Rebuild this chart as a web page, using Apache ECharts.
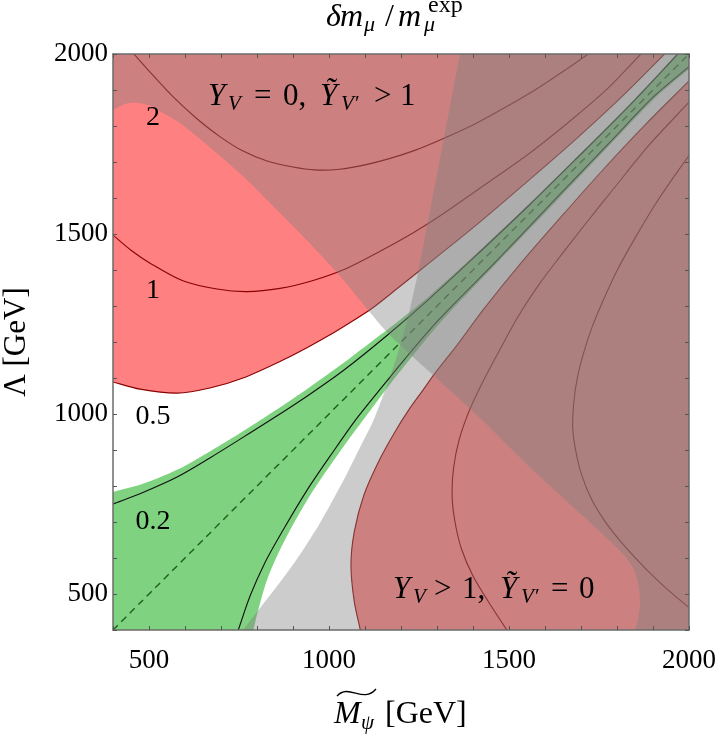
<!DOCTYPE html>
<html>
<head>
<meta charset="utf-8">
<script src="https://cdn.jsdelivr.net/npm/echarts@6/dist/echarts.min.js"></script>
<style>html,body{margin:0;padding:0;background:#fff}#c{width:720px;height:737px}</style>
</head>
<body>
<div id="c"></div>
<script>
// ---------- data (M_psi [GeV], Lambda [GeV]) ----------
const xTicks = [500, 1000, 1500, 2000];
const yTicks = [500, 1000, 1500, 2000];
const contourLevels = ['0.2', '0.5', '1', '2'];

const zeroLine = [[400,400],[2000,2000]];

const c02Upper = [[400,750],[483,782],[578,825],[669,878],[761,935],[856,995],[947,1055],[1039,1120],[1161,1218],[1281,1322],[1419,1450],[1558,1582],[1683,1705],[1836,1858],[1969,2000]];
const c02Lower = [[748,400],[781,495],[821,585],[875,682],[940,790],[1010,893],[1075,985],[1135,1060],[1210,1152],[1305,1262],[1460,1420],[1630,1598],[1790,1765],[1900,1880],[2000,1965]];

const c05Upper = [[400,1089],[475,1069],[578,1058],[669,1072],[761,1100],[872,1150],[940,1185],[1003,1220],[1060,1255],[1119,1293],[1200,1357],[1289,1428],[1419,1533],[1550,1645],[1683,1761],[1810,1878],[1932,2000]];
const c05Lower = [[1087,400],[1070,480],[1061,580],[1070,672],[1097,775],[1140,872],[1183,950],[1222,1012],[1260,1065],[1292,1110],[1360,1197],[1428,1289],[1533,1419],[1645,1548],[1758,1675],[1878,1803],[2000,1925]];

const c1Upper = [[400,1497],[450,1455],[503,1419],[594,1370],[689,1347],[772,1340],[864,1349],[956,1371],[1050,1405],[1142,1452],[1233,1503],[1308,1550],[1419,1627],[1558,1725],[1683,1825],[1775,1905],[1866,2000]];
const c1Lower = [[1494,400],[1445,475],[1400,550],[1368,625],[1350,700],[1342,770],[1346,850],[1362,930],[1390,1010],[1425,1085],[1470,1170],[1525,1270],[1585,1362],[1640,1435],[1710,1525],[1790,1625],[1890,1748],[2000,1866]];

const c2Upper = [[458,2000],[510,1942],[568,1880],[630,1823],[695,1772],[760,1731],[830,1702],[900,1686],[960,1678],[1030,1680],[1100,1692],[1170,1710],[1240,1733],[1310,1762],[1400,1803],[1490,1852],[1580,1905],[1660,1958],[1720,2000]];
const c2Lower = [[2000,462],[1940,513],[1880,570],[1822,632],[1770,697],[1730,762],[1702,830],[1685,900],[1677,962],[1680,1032],[1690,1102],[1708,1172],[1731,1242],[1760,1312],[1802,1402],[1852,1492],[1906,1582],[1960,1662],[2000,1718]];

const greenUpperEdge = [[400,783],[483,806],[578,845],[669,896],[761,952],[856,1013],[947,1075],[1039,1141],[1114,1198],[1170,1240],[1281,1330],[1419,1455],[1558,1586],[1683,1709],[1836,1862],[1966,2000]];
const greenLowerEdge = [[790,400],[802,450],[830,545],[875,645],[945,770],[1030,895],[1100,990],[1150,1057],[1215,1140],[1310,1255],[1465,1418],[1636,1596],[1795,1763],[1905,1877],[2000,1958]];

// boundary of the shaded region "Y_V = 0, Y~_V' > 1" (shaded above/right of it)
const boundA = [[400,1844],[433,1861],[467,1864],[503,1856],[544,1833],[586,1808],[678,1733],[772,1650],[864,1558],[956,1464],[1022,1393],[1106,1292],[1161,1228],[1225,1166],[1289,1108],[1419,989],[1550,860],[1669,750],[1753,673],[1789,639],[1828,598],[1853,553],[1864,483],[1858,428],[1850,400]];
// boundary of the shaded region "Y_V > 1, Y~_V' = 0" (shaded right of it)
const boundB = [[1364,2000],[1334,1844],[1305,1692],[1276,1540],[1249,1400],[1222,1280],[1205,1215],[1188,1160],[1170,1105],[1150,1050],[1119,972],[1085,905],[1040,815],[975,697],[925,618],[883,558],[835,495],[789,436],[761,400]];

// ---------- helpers ----------
const AX_MIN = 400, AX_MAX = 2000, FAR_LO = AX_MIN - 200, FAR_HI = AX_MAX + 200;
const SM = 0.3;
function ext(c, d) {
  d = d || 200;
  const e = (p, q) => { const dx = p[0]-q[0], dy = p[1]-q[1], L = Math.hypot(dx, dy) || 1; return [p[0]+dx/L*d, p[1]+dy/L*d]; };
  return [e(c[0], c[1])].concat(c, [e(c[c.length-1], c[c.length-2])]);
}
function polySeries(pts, fill) {
  return { type: 'custom', coordinateSystem: 'cartesian2d', clip: true, silent: true, data: [[AX_MIN, AX_MIN]],
    renderItem: (p, api) => ({ type: 'polygon', shape: { points: pts.map(q => api.coord(q)), smooth: SM }, style: { fill: fill } }) };
}
function lineSeries(pts, stroke, w, dash) {
  return { type: 'custom', coordinateSystem: 'cartesian2d', clip: true, silent: true, data: [[AX_MIN, AX_MIN]],
    renderItem: (p, api) => ({ type: 'polyline', shape: { points: pts.map(q => api.coord(q)), smooth: SM },
      style: { fill: 'none', stroke: stroke, lineWidth: w, lineDash: dash || null } }) };
}

const redUpperPoly = ext(c05Upper).concat([[FAR_LO, FAR_HI]]);
const redLowerPoly = ext(c05Lower).concat([[FAR_HI, FAR_LO]]);
const greenPoly = ext(greenUpperEdge).concat([[FAR_HI, FAR_HI]], ext(greenLowerEdge).reverse(), [[FAR_LO, FAR_LO]]);
const polyA = ext(boundA).concat([[FAR_HI, FAR_LO], [FAR_HI, FAR_HI], [FAR_LO, FAR_HI]]);
const polyB = ext(boundB).concat([[FAR_HI, FAR_LO], [FAR_HI, FAR_HI]]);

const RED = '#ff8080', GREEN = '#7fd27f', SHADE = 'rgba(128,128,128,0.4)';
const DKRED = '#8b0000', BLK = '#111111';

const FONT = '"Liberation Serif", "Times New Roman", serif';
function T(x, base, text, size, italic) {
  return { type: 'text', x: x, y: base - 0.34*size, z: 100, silent: true,
    style: { text: text, font: (italic ? 'italic ' : '') + size + 'px ' + FONT, fill: '#000', align: 'left', verticalAlign: 'middle' } };
}
function C(x, y, text, size) {
  return { type: 'text', x: x, y: y, z: 100, silent: true,
    style: { text: text, font: size + 'px ' + FONT, fill: '#000', align: 'center', verticalAlign: 'middle' } };
}

const graphics = [
  // title  δm_μ / m_μ^exp
  T(326, 28, 'δ', 32, true), T(340, 28, 'm', 32, true), T(364, 33, 'μ', 22, true),
  T(385, 28, '/', 32, false), T(398, 28, 'm', 32, true), T(424, 33, 'μ', 22, true),
  T(428, 14, 'exp', 24, false),
  // annotation top
  T(208, 107, 'Y', 31, true), T(228, 112, 'V', 21, true), T(254, 107, '=', 31, false),
  T(283, 107, '0,', 31, false), T(320, 107, 'Ỹ', 31, true), T(341, 112, 'V′', 21, true),
  T(374, 107, '>', 31, false), T(400, 107, '1', 31, false),
  // annotation bottom
  T(393, 600, 'Y', 31, true), T(413, 605, 'V', 21, true), T(434, 600, '>', 31, false),
  T(462, 600, '1,', 31, false), T(500, 600, 'Ỹ', 31, true), T(521, 605, 'V′', 21, true),
  T(551, 600, '=', 31, false), T(579, 600, '0', 31, false),
  // contour labels
  C(153, 118, contourLevels[3], 28), C(153, 291, contourLevels[2], 28),
  C(153, 417, contourLevels[1], 28), C(153, 522, contourLevels[0], 28),
  // x axis title  M~_ψ [GeV]
  T(334, 725, 'M', 32, true), T(361, 731, 'ψ', 21, true), T(385, 725, '[GeV]', 32, false),
  { type: 'bezierCurve', z: 100, silent: true,
    shape: { x1: 337, y1: 696, cpx1: 349, cpy1: 683, cpx2: 363, cpy2: 704, x2: 376, y2: 689 },
    style: { stroke: '#000', lineWidth: 1.4, fill: 'none' } },
  // y axis title
  { type: 'text', x: 17, y: 342, rotation: Math.PI/2, z: 100, silent: true,
    style: { text: 'Λ [GeV]', font: '31px ' + FONT, fill: '#000', align: 'center', verticalAlign: 'middle' } }
];

const axisCommon = {
  type: 'value', min: AX_MIN, max: AX_MAX, interval: 100, z: 10,
  splitLine: { show: false },
  axisLine: { show: true, onZero: false, lineStyle: { color: '#6b6b6b', width: 1.5 } },
  axisTick: { show: true, inside: true, length: 4, lineStyle: { color: '#555', width: 1 } }
};

const chart = echarts.init(document.getElementById('c'), null, { renderer: 'canvas' });
chart.setOption({
  animation: false,
  backgroundColor: '#ffffff',
  grid: { left: 113, top: 54, width: 576, height: 576, containLabel: false, outerBoundsMode: 'none' },
  xAxis: [
    Object.assign({}, axisCommon, { position: 'bottom',
      axisLabel: { show: true, margin: 17, color: '#000', fontFamily: FONT, fontSize: 27,
        formatter: v => (xTicks.indexOf(v) >= 0 ? String(v) : '') } }),
    Object.assign({}, axisCommon, { position: 'top', axisLabel: { show: false } })
  ],
  yAxis: [
    Object.assign({}, axisCommon, { position: 'left',
      axisLabel: { show: true, margin: 5, color: '#000', fontFamily: FONT, fontSize: 27, padding: [7, 0, 0, 0],
        formatter: v => (yTicks.indexOf(v) >= 0 ? String(v) : '') } }),
    Object.assign({}, axisCommon, { position: 'right', axisLabel: { show: false } })
  ],
  series: [
    polySeries(redUpperPoly, RED),
    polySeries(redLowerPoly, RED),
    polySeries(greenPoly, GREEN),
    lineSeries(ext(c02Upper), BLK, 1.1),
    lineSeries(ext(c02Lower), BLK, 1.1),
    lineSeries(ext(c05Upper), DKRED, 1.1),
    lineSeries(ext(c05Lower), DKRED, 1.1),
    lineSeries(ext(c1Upper), DKRED, 1.1),
    lineSeries(ext(c1Lower), DKRED, 1.1),
    lineSeries(ext(c2Upper), DKRED, 1.1),
    lineSeries(ext(c2Lower), DKRED, 1.1),
    lineSeries(zeroLine, '#1d5e1d', 1.4, [7, 5]),
    polySeries(polyA, SHADE),
    polySeries(polyB, SHADE)
  ],
  graphic: { elements: graphics }
});
</script>
</body>
</html>
